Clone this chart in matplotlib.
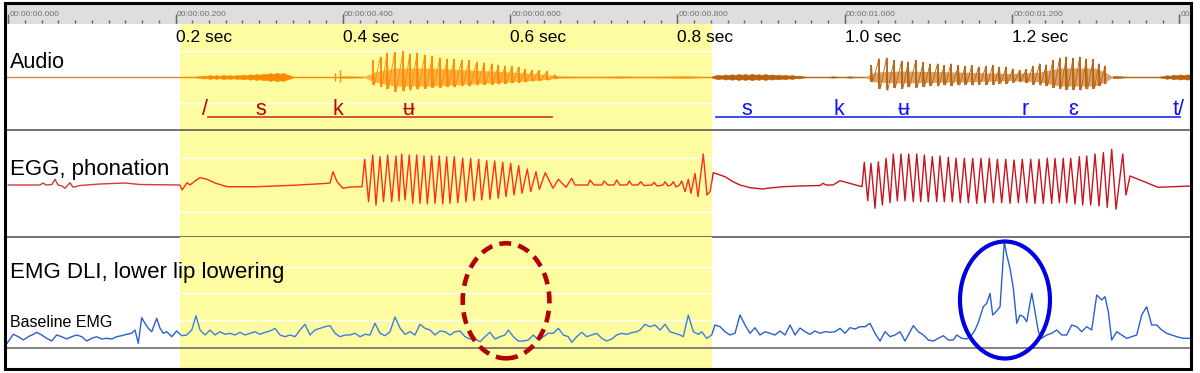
import matplotlib
matplotlib.use("Agg")
import matplotlib.pyplot as plt
from matplotlib.patches import Rectangle, Ellipse
from matplotlib.lines import Line2D
import numpy as np

plt.rcParams['font.family'] = ['Liberation Sans', 'DejaVu Sans']

# ---- time axis (ms) and selected region ----
sel_ms = [205.3, 841.3]
ruler_major_ms = [0, 200, 400, 600, 800, 1000, 1200, 1400]
sec_labels_ms = [200, 400, 600, 800, 1000, 1200]
sec_labels = ['0.2 sec', '0.4 sec', '0.6 sec', '0.8 sec', '1.0 sec', '1.2 sec']

# ---- audio: voiced pulses (ms, amplitude up / down) ----
audio_v1_t = [436, 445, 453, 462, 472, 480, 489, 498, 507, 516, 525, 533, 542,
              551, 560, 569, 578, 586, 594, 602, 610, 618, 626, 634, 644, 654]
audio_v1_top = [16.7, 20, 24.4, 24.7, 25.7, 23.3, 24.4, 22.3, 21, 19, 18.3, 17.7, 16.7,
                16.7, 15, 14.4, 13.3, 12.3, 11, 11, 10, 8.3, 6.7, 6.7, 5.7, 2.3]
audio_v1_bot = [8.3, 10, 11.7, 15, 14.3, 13.3, 12.3, 11.7, 11, 10.7, 10, 10, 9.3,
                9, 8.3, 7.7, 7.7, 7.3, 6.7, 6, 5.7, 5, 4.3, 4, 3.3, 1.7]
audio_v1_inner_t = [424, 438, 462, 504, 552, 600, 636, 654, 660]
audio_v1_inner = [0, 5, 9, 9, 7, 5, 3, 1.5, 0]

audio_v2_t = [1032, 1041, 1050, 1059, 1068, 1076, 1085, 1094, 1102, 1111, 1119, 1127,
              1136, 1144, 1152, 1160, 1169, 1177, 1185, 1193, 1201, 1209, 1217, 1225,
              1233, 1241, 1249, 1257, 1265, 1273, 1281, 1289, 1297, 1304, 1311]
audio_v2_top = [11.7, 18.3, 19, 16.7, 15.7, 15, 16.7, 15, 13.3, 13.3, 11.7, 13.3,
                11.7, 11, 11.7, 10, 11, 11.7, 10, 10, 8.3, 6.7, 7.7, 11,
                13.3, 12.3, 16.7, 19, 20, 19, 20, 18.3, 17.7, 13.3, 11]
audio_v2_bot = [5, 11.7, 13.3, 11, 11.7, 10, 11, 10, 9, 9, 8.3, 9,
                8.3, 7.7, 8.3, 7.7, 7.7, 7.7, 6.7, 6.7, 5.7, 5, 5.7, 7.7,
                8.3, 9, 11, 11.7, 12.7, 12.7, 13.3, 12.3, 11.7, 9, 6.7]
audio_v2_inner_t = [1024, 1036, 1066, 1138, 1198, 1234, 1257, 1299, 1311, 1321]
audio_v2_inner = [0, 5, 6, 5, 3.5, 5, 9, 9, 5, 0]

# noise segments (ms, half amplitude)
s1_t = [211, 222, 229, 233, 237, 241, 245, 249, 253, 257, 261, 265, 269, 273, 277, 281,
        285, 289, 293, 297, 301, 305, 309, 313, 317, 321, 325, 329, 333, 337, 341]
s1_a = [0.3, 0.3, 0.8, 1.5, 1.0, 2.0, 1.2, 1.8, 1.0, 2.2, 1.4, 1.9, 1.2, 2.0, 1.5, 2.4,
        1.6, 2.8, 2.0, 3.0, 2.2, 3.4, 2.6, 4.0, 3.0, 4.2, 3.2, 4.0, 2.5, 1.5, 0.3]
k1_t = [397, 410, 423]
k1_a = [0.6, 0.6, 0.4]
post1_t = [654, 680, 707, 731, 760, 803, 815, 830]
post1_a = [0.6, 0.4, 0.3, 0.6, 0.3, 0.6, 0.6, 0.3]
s2_t = [841, 845, 849, 853, 857, 861, 865, 869, 873, 877, 881, 885, 889, 893, 897, 901,
        905, 909, 913, 917, 921, 925, 929, 933, 937, 941, 945, 950, 955]
s2_a = [0.3, 1.6, 2.2, 1.5, 2.6, 1.8, 2.8, 2.0, 3.0, 2.2, 3.0, 2.0, 3.2, 2.2, 2.8, 2.0,
        3.0, 2.0, 2.6, 1.8, 2.4, 1.6, 2.2, 1.4, 2.0, 1.2, 1.4, 0.6, 0.3]
k2_t = [980, 986, 992, 1000, 1006, 1012]
k2_a = [0.2, 0.7, 0.2, 0.2, 0.7, 0.2]
post2_t = [1321, 1328, 1336]
post2_a = [1.2, 0.8, 0.3]
t_rel_t = [1375, 1381, 1385, 1389, 1393, 1397, 1401, 1405, 1409, 1414]
t_rel_a = [0.2, 1.0, 1.8, 1.2, 2.4, 1.6, 2.6, 1.8, 2.6, 2.2]
burst_t = [391, 397]
burst_top = [4, 6.7]
burst_bot = [4, 5]

# ---- EGG (ms, amplitude) ----
egg_lead_t = [0, 37.9, 41.5, 45.1, 52.2, 55.8, 59.4, 64.2, 67.8, 73.8, 77.4, 85.7, 109.6,
              139.5, 157.5, 199.3, 205.3, 207.7, 213.7, 217.2, 223.2, 229.2, 237.6, 247.1,
              261.5, 297.3, 340.4, 378.6, 384.6, 388.2, 393.0, 400.2, 408.5, 422.9]
egg_lead_v = [0, 0, 2, 0, 0.5, 5.7, 0, -1, -3.3, 2.3, -2.3, -0.5, 1,
              2, 0.5, 0, 0, -5, 2.3, 0, 4, 7.3, 5.7, 2,
              -1.7, -1.7, -0.3, 1.5, 2, 13.3, 3.3, -3.3, -2, -1.7]
egg_v1_t = [426.1, 430.7, 435.7, 439.6, 444.4, 448.6, 453.6, 458.4, 463.5, 467.1, 470.3,
            474.3, 479.4, 483.5, 488.3, 492.2, 497.0, 501.0, 506.2, 510.2, 515.3, 519.4,
            524.1, 528.1, 533.2, 537.3, 543.3, 547.2, 552.8, 556.8, 562.4, 566.0, 572.0,
            575.9, 581.5, 585.8, 591.1, 595.0, 600.7, 604.6, 610.2, 614.2, 620.5, 624.6,
            630.9, 634.9, 642.0, 651.2, 657.6, 666.8, 673.6, 677.5]
egg_v1_v = [25.7, -16.7, 30, -20, 28.3, -16.7, 30, -16.7, 29, -16, 31,
            -15, 30, -18.3, 30, -18.3, 29, -19, 29, -18.3, 29, -19,
            28.3, -18.3, 28.3, -17.7, 26.7, -16.7, 26.7, -15.7, 25.7, -15, 24.3,
            -14.3, 24, -13.3, 22.7, -11.7, 21.7, -10, 19.3, -8.3, 16, -6.7,
            13.3, -4.3, 12.3, -3.3, 5.7, -2.3, 6.7, 0]
egg_mid_t = [693.1, 695.5, 700.3, 709.8, 712.2, 717.0, 724.2, 727.4, 731.3, 739.7, 742.5,
             745.7, 752.9, 756.1, 760.0, 769.6, 772.0, 775.6, 782.8, 785.2, 788.7, 792.3,
             795.1, 798.3, 802.5, 805.1, 809.1, 813.0, 816.2, 821.0, 824.6, 830.9, 835.3,
             839.0, 842.9, 856.9, 866.4, 874.8, 886.8, 902.3, 907.1, 926.2, 946.6, 970.5,
             974.0, 977.6, 986.0, 994.4, 1020.7]
egg_mid_v = [0, 5, 0, 0, 4, 0, 0, 5, 0, 0, 4,
             0, 0, 3.3, -0.5, 0, 2.7, -1, 0, 3.3, -1, 0,
             3.3, -2, 0, 4, -6.7, 5.7, -8.3, 11.7, -11.7, 31, -10,
             -6.7, 12.3, 8.3, 3.3, 0, -2.7, -4, -3.3, -1.7, -1, -0.5,
             1.7, 0, 0, 4.3, -1.7]
egg_v2_t = [1023.4, 1027.5, 1031.4, 1036.2, 1040.2, 1045.0, 1049.4, 1054.2, 1058.1, 1062.9,
            1067.3, 1072.1, 1076.5, 1082.0, 1086.1, 1090.9, 1095.2, 1099.9, 1104.7, 1110.0,
            1113.9, 1119.1, 1123.9, 1128.6, 1133.1, 1138.2, 1143.0, 1147.8, 1153.0, 1157.8,
            1162.9, 1167.7, 1172.9, 1177.7, 1182.5, 1187.7, 1192.5, 1197.6, 1202.4, 1207.6,
            1212.3, 1217.6, 1222.4, 1227.5, 1232.3, 1237.4, 1242.2, 1247.5, 1251.4, 1256.6,
            1261.3, 1265.4, 1270.2, 1275.3, 1280.5, 1284.5, 1289.3, 1294.1, 1299.3, 1304.0,
            1309.2, 1313.9, 1319.2, 1324.4, 1332.4, 1336.3]
egg_v2_v = [22.7, -15.7, 21.7, -23.3, 23.3, -20, 26.7, -17.7, 31, -15.7,
            31, -15.7, 31, -16.7, 31, -16.7, 30, -16.7, 28.3, -16.7,
            29, -16.7, 27.7, -16.7, 26.7, -17.7, 26.7, -17.7, 26.7, -18.3,
            26.7, -17.7, 26.7, -17.7, 25.7, -17.7, 25.7, -18.3, 25, -17.7,
            25.7, -17.7, 25.7, -18.3, 25.7, -18.3, 26.7, -18.3, 26.7, -17.7,
            26.7, -17.7, 26.7, -19, 28.3, -20, 29, -20, 31, -21,
            32.3, -22.3, 35.7, -24.3, 31, -10]
egg_tail_t = [1341.1, 1353.1, 1374.6, 1414.0]
egg_tail_v = [9, 5, -2.3, -1]

# ---- EMG (ms, level above lower line) ----
emg_t = [-1.5, 6.0, 12.0, 17.9, 23.9, 29.9, 34.0, 39.9, 45.9, 51.9, 57.9, 63.8, 69.8, 75.8,
         81.8, 87.8, 93.7, 99.7, 105.7, 111.7, 117.6, 123.6, 129.6, 135.6, 141.6, 147.5,
         151.5, 155.4, 159.5, 163.4, 167.4, 171.5, 177.4, 181.4, 185.3, 189.4, 195.4, 201.3,
         207.3, 213.3, 219.3, 224.4, 229.2, 235.2, 241.2, 247.1, 253.1, 259.1, 265.1, 271.0,
         277.0, 283.0, 289.0, 294.9, 300.9, 306.9, 312.9, 318.9, 324.8, 330.8, 336.8, 342.8,
         348.8, 354.7, 360.7, 366.7, 372.7, 378.6, 384.6, 390.6, 396.6, 402.6, 408.5, 414.5,
         420.5, 426.5, 432.4, 438.4, 444.4, 450.4, 456.4, 462.3, 468.3,
         474.3, 480.3, 486.2, 492.2, 498.2, 504.2, 510.2, 516.1, 522.1, 528.1, 534.1, 540.1,
         546.0, 552.0, 558.0, 564.0, 569.9, 575.9, 581.9, 587.9, 593.8, 597.8, 603.8, 609.8,
         615.7, 621.7, 627.7, 633.7, 639.7, 645.6, 651.6, 657.6, 663.6, 669.5, 673.6, 679.6,
         685.6, 691.5, 697.5, 703.5, 709.5, 715.4, 721.4, 727.4, 733.4, 739.3, 745.3, 751.3,
         755.3, 761.2, 767.2, 773.2, 779.2, 785.2, 791.1, 797.1, 803.1, 807.0, 813.0, 819.0,
         825.0, 829.0, 835.0, 840.9, 844.9, 850.9, 856.9, 862.9, 868.8, 874.8, 880.8, 886.8,
         892.7, 898.7, 904.7, 910.7, 916.6, 922.6, 928.6, 934.6, 940.6, 946.6,
         952.5, 958.5, 964.5, 970.5, 976.4, 982.4, 988.4, 994.4, 1000.3, 1006.3, 1012.3,
         1018.3, 1024.3, 1030.2, 1036.2, 1042.2, 1048.2, 1054.2, 1060.1, 1066.1, 1072.1,
         1078.1, 1082.0, 1088.0, 1094.0, 1100.0, 1106.0, 1111.9, 1117.9, 1123.9, 1129.9,
         1133.9, 1139.9, 1145.9, 1151.8, 1155.8, 1159.8, 1165.7, 1169.8, 1173.7, 1176.9,
         1181.7, 1185.7, 1188.9, 1190.8, 1193.7, 1197.6, 1201.6, 1205.7, 1209.6, 1213.6,
         1217.6, 1223.6, 1227.5, 1231.5, 1235.5, 1241.5, 1247.5, 1253.4, 1259.4, 1265.4,
         1271.4, 1277.4, 1283.3, 1289.3, 1295.3, 1301.3, 1307.2, 1311.2, 1315.2, 1319.2,
         1325.2, 1331.2, 1337.1, 1343.1, 1349.1, 1355.1, 1361.0, 1367.0, 1373.0, 1379.0,
         1384.9, 1390.9, 1396.9, 1404.8, 1412.8]
emg_v = [4.7, 13.7, 11.3, 8, 11.3, 13.7, 15.7, 13, 9.7, 7, 13, 11.3, 9, 11.3,
         13, 11.3, 7, 9.7, 11.3, 9, 9.7, 9, 11.3, 12.3, 13.7, 14.7,
         18, 4.7, 30.3, 24.7, 19.7, 16.3, 29.7, 19.7, 14.7, 16.3, 11.3, 17,
         12.3, 13, 18, 32.3, 18, 13, 18, 13, 16.3, 13.7, 14.7, 13,
         15.7, 13, 14.7, 16.3, 13.7, 15.7, 17, 19.7, 13, 11.3, 13, 11.3,
         18, 23.7, 13, 18, 19.7, 21.3, 22.3, 14.7, 11.3, 13, 13, 14.7,
         11.3, 13.7, 13, 24.7, 14.7, 12.3, 16.3, 31, 20,
         13.7, 16.3, 13, 23.7, 19.7, 18, 13, 17, 16.3, 13, 16.3, 17,
         11.3, 9, 9, 6.3, 11.3, 15.7, 9, 11.3, 13, 18, 11.3, 7,
         7, 8, 13, 8, 11.3, 14.7, 14.7, 19.7, 13, 11.3, 5.7, 11.3,
         15.7, 11.3, 13, 14.7, 9.7, 7, 9, 13, 14.7, 13.7, 15.3, 16.3,
         18, 23.7, 21.3, 23, 18, 23.7, 16.3, 14.7, 13, 11.3, 33, 16.3,
         13.7, 16.3, 9.7, 13, 23, 21.3, 16.3, 13, 14.7, 33, 23, 14.7,
         20.3, 13, 16.3, 14.7, 13, 17, 13, 23, 13, 20,
         16.3, 13.7, 17, 14.7, 16.3, 15.7, 16.3, 19.7, 14.7, 20.3, 19,
         21.3, 21.3, 24.7, 14.7, 7, 16.3, 11.3, 13, 16.3, 7,
         16.3, 22.3, 16.3, 13, 8, 7, 9.7, 12.3, 8, 8,
         13, 9.7, 9, 13, 18, 25.7, 41.3, 44.7, 54.7, 33,
         37, 41.3, 83, 106.3, 93, 79.7, 59.7, 24.7, 33, 31.3,
         26.3, 54.7, 36.3, 16.3, 9.7, 13, 14.7, 18, 13, 13,
         23, 21.3, 16.3, 21.3, 18, 53, 48, 51.3, 36.3, 8,
         16.3, 13, 9.7, 11.3, 13, 33, 41.3, 23, 23, 18,
         14.7, 13, 11.3, 9.7, 9.7]

# ---- phonetic labels ----
red_labels = ['/', 's', 'k', 'ʉ']
red_labels_ms = [235.2, 302.2, 394.2, 479.1]
red_line_ms = [239.0, 650.0]
blue_labels = ['s', 'k', 'ʉ', 'r', 'ɛ', 't/']
blue_labels_ms = [883.2, 993.2, 1070.9, 1215.6, 1273.0, 1399.7]
blue_line_ms = [846.1, 1400.9]

# ---- figure ----
W, H = 1200, 373
XMIN, XMAX = -1.55, 1414.0
YELLOW = '#fefca0'

fig = plt.figure(figsize=(12, 3.73), dpi=100)
fig.patch.set_facecolor('white')


def fx(px):
    return px / W


def fy(px):
    return 1 - px / H


def panel(top, bottom, ylim):
    ax = fig.add_axes([fx(7), fy(bottom), fx(1191) - fx(7), (bottom - top) / H])
    ax.set_xlim(XMIN, XMAX)
    ax.set_ylim(*ylim)
    ax.set_xticks([])
    ax.set_yticks([])
    ax.set_facecolor('none')
    for s in ax.spines.values():
        s.set_visible(False)
    return ax


def regions(ax):
    # left of selection, selection, right of selection
    return [Rectangle((XMIN, -1000), sel_ms[0] - XMIN, 2000, transform=ax.transData),
            Rectangle((sel_ms[0], -1000), sel_ms[1] - sel_ms[0], 2000, transform=ax.transData),
            Rectangle((sel_ms[1], -1000), XMAX - sel_ms[1], 2000, transform=ax.transData)]


# ruler
ax_r = fig.add_axes([fx(7), fy(24), fx(1191) - fx(7), 19 / H])
ax_r.set_xlim(XMIN, XMAX)
ax_r.set_ylim(19, 0)
ax_r.set_facecolor('#dedede')
ax_r.set_xticks([])
ax_r.set_yticks([])
for s in ax_r.spines.values():
    s.set_visible(False)
ax_r.vlines(np.arange(0, 1420, 20), 15, 17.5, color='#606060', lw=1)
ax_r.vlines(ruler_major_ms, 8.5, 17.5, color='#606060', lw=1)
for m in ruler_major_ms:
    ax_r.text(m + 1.5, 9.8, '00:00:%02d.%03d' % (m // 1000, m % 1000), fontsize=6,
              color='#707070', va='center', ha='left', clip_on=True)

# audio panel
ax_a = panel(24, 130, (-53, 53))
ax_a.axvspan(sel_ms[0], sel_ms[1], color=YELLOW, lw=0, zorder=0)
for yv in [26, -26]:
    ax_a.axhline(yv, color='white', lw=1, zorder=1)

noise = [(s1_t, s1_a), (k1_t, k1_a), (post1_t, post1_a), (s2_t, s2_a), (k2_t, k2_a),
         (post2_t, post2_a), (t_rel_t, t_rel_a)]
inner = [(audio_v1_inner_t, audio_v1_inner), (audio_v2_inner_t, audio_v2_inner)]
vowels = [(audio_v1_t, audio_v1_top, audio_v1_bot), (audio_v2_t, audio_v2_top, audio_v2_bot)]

audio_cols = [('#cf8a4a', '#e2b07c'), ('#ff8a00', '#ffb347'), ('#b8620e', '#d9a36a')]
for clip, (main, light) in zip(regions(ax_a), audio_cols):
    arts = [ax_a.axhline(0, color=main, lw=1.0, zorder=3)]
    for t, a in inner:
        arts.append(ax_a.fill_between(t, -np.array(a), a, color=light, lw=0, zorder=3))
    for t, a in noise:
        arts.append(ax_a.fill_between(t, -np.array(a), a, color=main, lw=0.4, zorder=3))
    for t, top, bot in vowels:
        xs = np.column_stack([t, np.array(t) + 1.5]).ravel()
        ys = np.column_stack([top, -np.array(bot)]).ravel()
        arts += ax_a.plot(xs, ys, color=main, lw=0.6, zorder=4)
        arts.append(ax_a.vlines(t, -np.array(bot), top, color=main, lw=1.3, zorder=4))
    arts.append(ax_a.vlines(burst_t, -np.array(burst_bot), burst_top, color=main, lw=1, zorder=4))
    for a in arts:
        a.set_clip_path(clip)

for m, lab in zip(sec_labels_ms, sec_labels):
    ax_a.text(m, 40, lab, fontsize=12.5, ha='left', va='center', zorder=6)
ax_a.text(2, 8.7, 'Audio', fontsize=15.5, ha='left', va='baseline', zorder=6)

for m, lab in zip(red_labels_ms, red_labels):
    ax_a.text(m, -38, lab, fontsize=15.5, color='#c00000', ha='center', va='baseline', zorder=6)
ax_a.plot(red_line_ms, [-40.3, -40.3], color='#d2462e', lw=1.3, zorder=5)
for m, lab in zip(blue_labels_ms, blue_labels):
    ax_a.text(m, -38, lab, fontsize=15.5, color='#1010ff', ha='center', va='baseline', zorder=6)
ax_a.plot(blue_line_ms, [-40.3, -40.3], color='#2840f0', lw=1.3, zorder=5)

# EGG panel
ax_e = panel(130, 237, (-52, 55))
ax_e.axvspan(sel_ms[0], sel_ms[1], color=YELLOW, lw=0, zorder=0)
for yv in [27, -27]:
    ax_e.axhline(yv, color='white', lw=1, zorder=1)
egg_t = egg_lead_t + egg_v1_t + egg_mid_t + egg_v2_t + egg_tail_t
egg_v = egg_lead_v + egg_v1_v + egg_mid_v + egg_v2_v + egg_tail_v
for clip, col in zip(regions(ax_e), ['#d03a3a', '#ff2d1f', '#c8141e']):
    ln, = ax_e.plot(egg_t, egg_v, color=col, lw=1.0, zorder=3)
    ln.set_clip_path(clip)
ax_e.text(2, 10, 'EGG, phonation', fontsize=16, ha='left', va='baseline', zorder=6)

# EMG panel
ax_m = panel(237, 368, (-20, 111))
ax_m.set_zorder(3)
ax_m.axvspan(sel_ms[0], sel_ms[1], color=YELLOW, lw=0, zorder=0)
for yv in [81.3, 54.7, 28]:
    ax_m.axhline(yv, color='white', lw=1, zorder=1)
for clip, col in zip(regions(ax_m), ['#2b5fd0', '#3d7ee6', '#2b5fd0']):
    ln, = ax_m.plot(emg_t, emg_v, color=col, lw=1.0, zorder=3)
    ln.set_clip_path(clip)
ax_m.axhline(0, color='#6e6e6e', lw=1.2, zorder=2)
ax_m.text(2, 70, 'EMG DLI, lower lip lowering', fontsize=16, ha='left', va='baseline', zorder=6)
ax_m.text(2, 21.3, 'Baseline EMG', fontsize=11.5, ha='left', va='baseline', zorder=6)

ax_m.add_patch(Ellipse((595.1, 47.2), 103.6, 115, fill=False, ec='#b30000', lw=3.3,
                       ls=(0, (2.6, 1.6)), zorder=7, clip_on=False))
ax_m.add_patch(Ellipse((1191.6, 48), 107.6, 117, fill=False, ec='#0000e0', lw=3.0,
                       zorder=7, clip_on=False))

# separators and outer frame
for yp, col in [(130, '#4d4d4d'), (237, '#4d4d4d')]:
    fig.add_artist(Line2D([fx(7), fx(1191)], [fy(yp), fy(yp)], color=col, lw=1.1))
fig.add_artist(Rectangle((fx(5), fy(368.5)), fx(1191) - fx(5), (368.5 - 2.5) / H,
                         fill=False, ec='black', lw=2.2, transform=fig.transFigure, zorder=10))

fig.savefig('out.png', dpi=100)
